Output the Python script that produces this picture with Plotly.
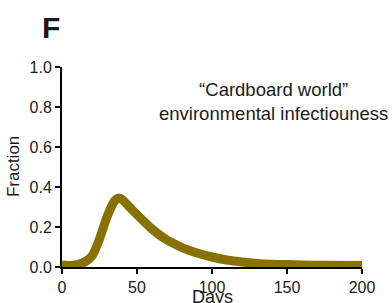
import plotly.graph_objects as go

days = [0, 5, 10, 15, 20, 25, 30, 35, 38, 40, 45, 50, 55, 60, 65, 70, 75, 80, 90, 100,
        110, 120, 130, 140, 150, 160, 175, 200]
fraction = [0.01, 0.008, 0.012, 0.025, 0.055, 0.14, 0.25, 0.33, 0.345, 0.338, 0.30, 0.262,
            0.225, 0.19, 0.16, 0.135, 0.115, 0.097, 0.07, 0.05, 0.035, 0.025, 0.018, 0.014,
            0.012, 0.01, 0.009, 0.008]
x_ticks = [0, 50, 100, 150, 200]
y_ticks = [0.0, 0.2, 0.4, 0.6, 0.8, 1.0]
y_labels = ["0.0", "0.2", "0.4", "0.6", "0.8", "1.0"]

fig = go.Figure()
fig.add_trace(go.Scatter(x=days, y=fraction, mode="lines",
                         line=dict(color="#877100", width=9, shape="spline", smoothing=0.8),
                         showlegend=False))

axis_common = dict(showline=True, linecolor="black", linewidth=2, ticks="outside",
                   ticklen=5, tickwidth=2, tickcolor="black", showgrid=False, zeroline=False,
                   automargin=False,
                   tickfont=dict(family="Liberation Sans, Arial, sans-serif", size=16, color="#1a1a1a"))

fig.update_layout(
    template="none",
    width=392, height=303,
    margin=dict(l=62, r=30, t=67, b=36, autoexpand=False),
    paper_bgcolor="white", plot_bgcolor="white",
    xaxis=dict(range=[0, 200], tickvals=x_ticks, **axis_common),
    yaxis=dict(range=[0, 1.0], tickvals=y_ticks, ticktext=y_labels, **axis_common),
    font=dict(family="Liberation Sans, Arial, sans-serif", color="#1a1a1a"),
)

fig.add_annotation(text="<b>F</b>", x=(51 - 62) / 300, y=(267 - 27) / 200, xref="paper", yref="paper",
                   showarrow=False, font=dict(size=30, color="#1a1a1a"),
                   xanchor="center", yanchor="middle")
fig.add_annotation(text="“Cardboard world”<br>environmental infectiouness",
                   x=0.705, y=0.83, xref="paper", yref="paper", showarrow=False,
                   font=dict(size=18.5, color="#1a1a1a"), xanchor="center", yanchor="middle")
fig.add_annotation(text="Days", x=0.503, y=-0.15, xref="paper", yref="paper", showarrow=False,
                   font=dict(size=18, color="#1a1a1a"), xanchor="center", yanchor="middle")
fig.add_annotation(text="Fraction", x=-0.163, y=0.5, xref="paper", yref="paper", showarrow=False,
                   textangle=-90, font=dict(size=17, color="#1a1a1a"), xanchor="center", yanchor="middle")

fig.write_html("out.html", config={"displayModeBar": False},
               post_script="document.body.style.margin='0';")
